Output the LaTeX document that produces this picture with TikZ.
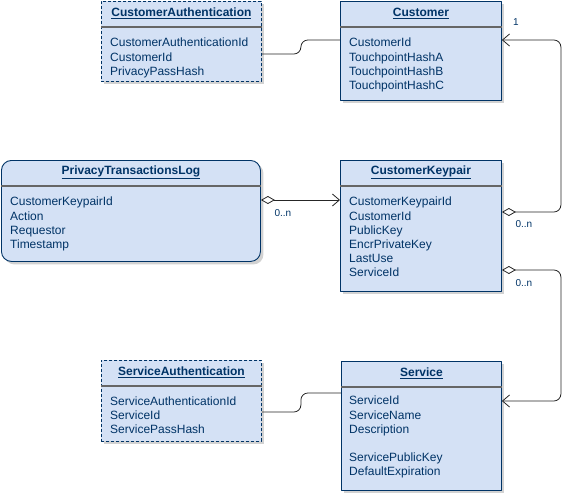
\documentclass[tikz,border=0pt]{standalone}
\usepackage{fontspec}
\setmainfont{Liberation Sans}
\usetikzlibrary{arrows.meta,calc,shadows,positioning}
\definecolor{umlfill}{HTML}{D4E1F5}
\definecolor{umlline}{HTML}{003366}
\tikzset{
  cls/.style={draw=umlline,fill=umlfill,line width=0.9pt,anchor=north west,inner sep=0pt,
    drop shadow={shadow xshift=3pt,shadow yshift=-3pt,fill=black!35,opacity=0.5}},
  clsdash/.style={cls,dash pattern=on 3pt off 2pt},
  title/.style={font=\fontsize{12}{14}\selectfont\bfseries,text=umlline},
  attrs/.style={anchor=north west,align=left,inner sep=0pt,text=umlline,
    font=\fontsize{12}{14.2}\selectfont},
  sep/.style={black!60,line width=1.2pt},
  conn/.style={line width=0.8pt,black!85,rounded corners=7pt},
  mult/.style={font=\fontsize{10}{12}\selectfont,text=umlline,inner sep=0pt},
  odia/.tip={Diamond[open,length=14pt,width=8pt]},
  obarb/.tip={Straight Barb[length=7pt,width=12pt]}
}
\begin{document}
\begin{tikzpicture}[x=1pt,y=-1pt,line join=round]
\useasboundingbox (0,0) rectangle (578,495);
% classes
\node[clsdash,minimum width=160pt,minimum height=80pt] (ca) at (101,1) {};
\node[cls,minimum width=161pt,minimum height=99pt] (cu) at (340,1) {};
\node[cls,rounded corners=10pt,minimum width=259pt,minimum height=101pt] (ptl) at (1,160) {};
\node[cls,minimum width=161pt,minimum height=131pt] (kp) at (340,160) {};
\node[clsdash,minimum width=160pt,minimum height=81pt] (sa) at (101,360) {};
\node[cls,minimum width=160pt,minimum height=129pt] (sv) at (341,361) {};
\foreach \n in {ca,cu,ptl,kp,sa,sv}{\draw[sep]([yshift=-26pt]\n.north west)--([yshift=-26pt]\n.north east);}
\foreach \n/\t in {ca/CustomerAuthentication,cu/Customer,ptl/PrivacyTransactionsLog,kp/CustomerKeypair,sa/ServiceAuthentication,sv/Service}
  {\node[title] (\n-t) at ([yshift=-12.5pt]\n.north) {\underline{\t}};}
% attributes
\node[attrs] (ca-a) at ([xshift=9pt,yshift=-37pt]ca.north west) {CustomerAuthenticationId\\CustomerId\\PrivacyPassHash};
\node[attrs] (cu-a) at ([xshift=9pt,yshift=-37pt]cu.north west) {CustomerId\\TouchpointHashA\\TouchpointHashB\\TouchpointHashC};
\node[attrs] (ptl-a) at ([xshift=9pt,yshift=-37pt]ptl.north west) {CustomerKeypairId\\Action\\Requestor\\Timestamp};
\node[attrs] (kp-a) at ([xshift=9pt,yshift=-37pt]kp.north west) {CustomerKeypairId\\CustomerId\\PublicKey\\EncrPrivateKey\\LastUse\\ServiceId};
\node[attrs] (sa-a) at ([xshift=9pt,yshift=-36.5pt]sa.north west) {ServiceAuthenticationId\\ServiceId\\ServicePassHash};
\node[attrs] (sv-a) at ([xshift=8pt,yshift=-35pt]sv.north west) {ServiceId\\ServiceName\\Description\\[14.2pt]ServicePublicKey\\DefaultExpiration};
% connectors
\draw[conn]([yshift=-53pt]ca.north east) -- ++(39,0) |- ([yshift=-39pt]cu.north west);
\draw[conn]([yshift=-52pt]sa.north east) -- ++(39,0) |- ([yshift=-32pt]sv.north west);
\draw[conn,odia-obarb]([yshift=-40pt]ptl.north east) -- ([yshift=-40pt]kp.north west);
\draw[conn,odia-obarb]([yshift=-52pt]kp.north east) -- ++(59,0) |- ([yshift=-39pt]cu.north east);
\draw[conn,odia-obarb]([yshift=-110pt]kp.north east) -- ++(59,0) |- ([yshift=-40pt]sv.north east);
% multiplicities
\node[mult] (m1) at ([xshift=14pt,yshift=-21pt]cu.north east) {1};
\node[mult] (m2) at ([xshift=22pt,yshift=-64pt]kp.north east) {0..n};
\node[mult] (m3) at ([xshift=22pt,yshift=-123pt]kp.north east) {0..n};
\node[mult] (m4) at ([xshift=22pt,yshift=-53pt]ptl.north east) {0..n};
\end{tikzpicture}
\end{document}
